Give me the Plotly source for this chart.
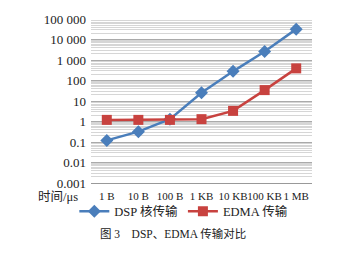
import plotly.graph_objects as go

categories = ["1 B", "10 B", "100 B", "1 KB", "10 KB", "100 KB", "1 MB"]
dsp_core = [0.12, 0.32, 1.3, 25, 280, 2600, 32000]
edma = [1.2, 1.2, 1.2, 1.3, 3.3, 34, 390]
ytick_vals = [0.001, 0.01, 0.1, 1, 10, 100, 1000, 10000, 100000]
ytick_text = ["0.001", "0.01", "0.1", "1", "10", "100", "1 000", "10 000", "100 000"]

minor_vals = [d * m for d in ytick_vals[:-1] for m in range(2, 10)]

serif = '"Liberation Serif", "Times New Roman", "Noto Sans CJK SC", serif'

fig = go.Figure()
fig.add_trace(go.Scatter(
    x=categories, y=dsp_core, name="DSP 核传输", mode="lines+markers",
    line=dict(color="#4A7EBB", width=2.5),
    marker=dict(symbol="diamond", size=10, color="#4A7EBB"),
))
fig.add_trace(go.Scatter(
    x=categories, y=edma, name="EDMA 传输", mode="lines+markers",
    line=dict(color="#C8423F", width=2.5),
    marker=dict(symbol="square", size=10, color="#C8423F"),
))

fig.update_layout(
    width=347, height=261,
    margin=dict(l=91, r=35, t=15, b=78),
    paper_bgcolor="white", plot_bgcolor="white",
    font=dict(family=serif, size=13, color="#222222"),
    showlegend=True,
    legend=dict(orientation="h", x=0.42, xanchor="center", y=-0.175, yanchor="middle",
                font=dict(family=serif, size=12.5), itemwidth=30,
                bgcolor="rgba(0,0,0,0)"),
    annotations=[
        dict(text="时间/μs", xref="paper", yref="paper", x=-0.05, y=-0.083,
             xanchor="right", yanchor="middle", showarrow=False,
             font=dict(family=serif, size=12.5)),
        dict(text="图 3　DSP、EDMA 传输对比", xref="paper", yref="paper", x=0.37, y=-0.31,
             xanchor="center", yanchor="middle", showarrow=False,
             font=dict(family=serif, size=11.5)),
    ],
)
fig.update_xaxes(
    type="category", showgrid=False, showline=True, linecolor="#999999", linewidth=1,
    ticks="outside", ticklen=3, tickcolor="rgba(0,0,0,0)",
    tickfont=dict(family=serif, size=11), tickangle=0,
    range=[-0.5, 6.5],
)
fig.update_yaxes(
    type="log", range=[-3, 5], tickvals=ytick_vals, ticktext=ytick_text,
    showgrid=True, gridcolor="#AAAAAA", gridwidth=1, zeroline=False,
    showline=False, ticks="", ticklabelstandoff=4, tickfont=dict(family=serif, size=13),
    minor=dict(tickvals=minor_vals, showgrid=True, gridcolor="#D6D6D6", gridwidth=1, ticks=""),
)

fig.write_html("out.html")
